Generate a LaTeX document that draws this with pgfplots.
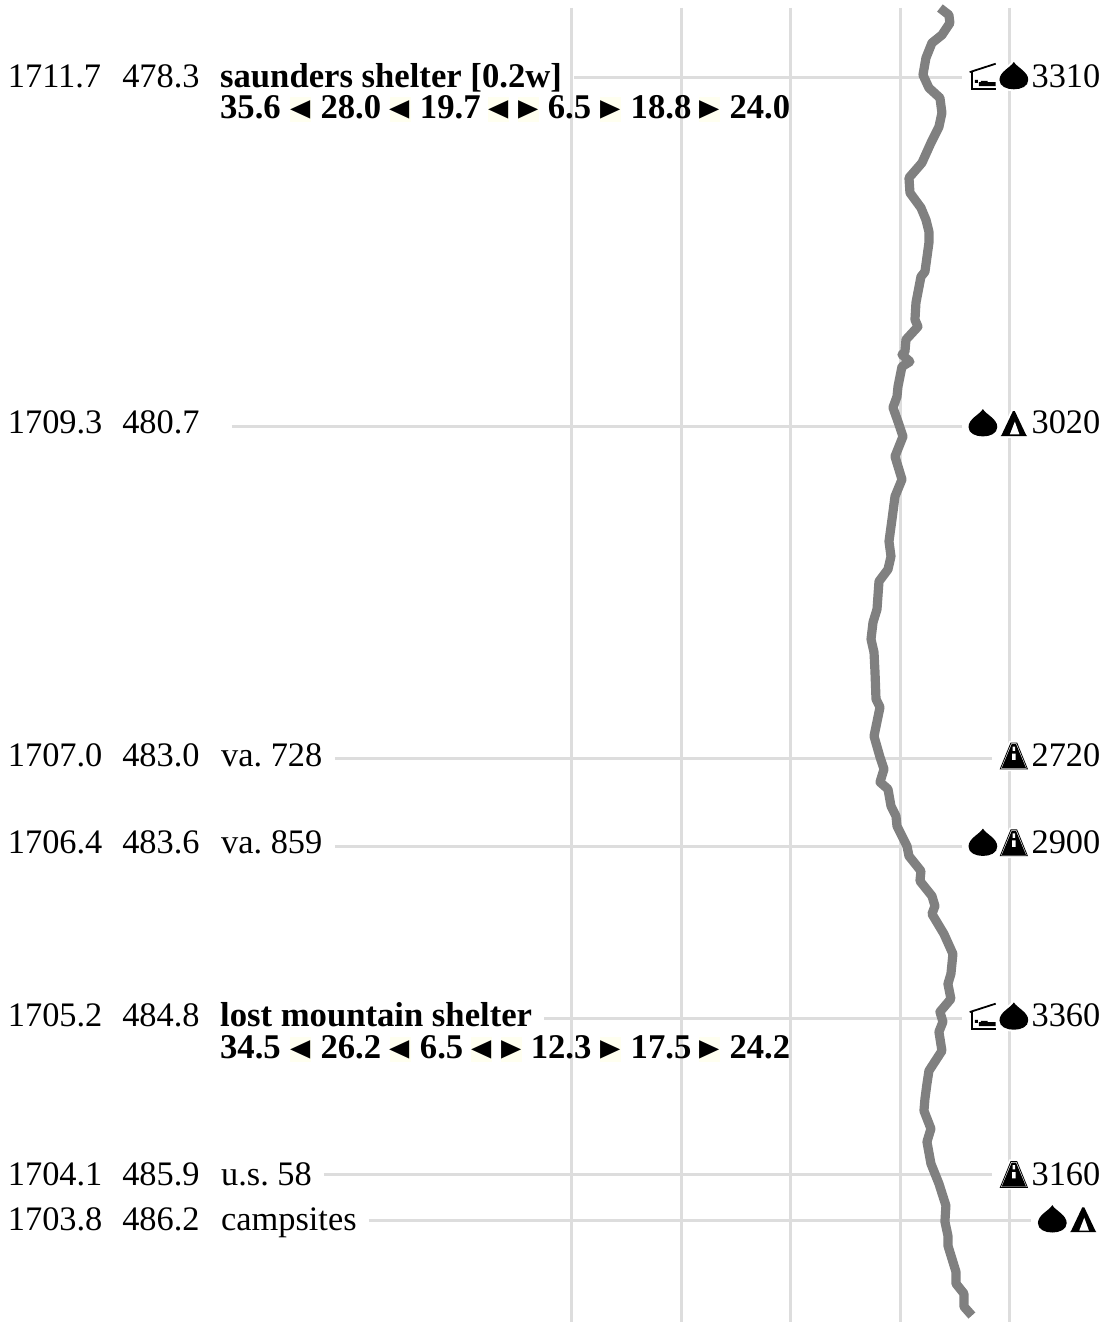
\documentclass[border=0pt]{standalone}
\usepackage{fontspec}
\usepackage{pgfplots}
\pgfplotsset{compat=1.18}
\setmainfont{Liberation Serif}
\newfontfamily\symfont{DejaVu Sans}
\frenchspacing
\definecolor{gridc}{HTML}{DDDDDD}
\definecolor{prof}{HTML}{808080}
\definecolor{ivoryc}{HTML}{FFFFF0}
\newcommand{\droppath}{%
  \pgfpathmoveto{\pgfpoint{0pt}{7pt}}%
  \pgfpathcurveto{\pgfpoint{1.6pt}{4.2pt}}{\pgfpoint{7.2pt}{2.2pt}}{\pgfpoint{7.2pt}{-2pt}}%
  \pgfpathcurveto{\pgfpoint{7.2pt}{-5.2pt}}{\pgfpoint{3.6pt}{-6.7pt}}{\pgfpoint{0pt}{-6.7pt}}%
  \pgfpathcurveto{\pgfpoint{-3.6pt}{-6.7pt}}{\pgfpoint{-7.2pt}{-5.2pt}}{\pgfpoint{-7.2pt}{-2pt}}%
  \pgfpathcurveto{\pgfpoint{-7.2pt}{2.2pt}}{\pgfpoint{-1.6pt}{4.2pt}}{\pgfpoint{0pt}{7pt}}%
  \pgfpathclose}
\pgfdeclareplotmark{wdrop}{%
  \pgfsetlinewidth{2pt}\pgfsetcolor{white}\droppath\pgfusepath{stroke}%
  \pgfsetfillcolor{black}\droppath\pgfusepath{fill}}
\newcommand{\tentpath}{%
  \pgfpathmoveto{\pgfpoint{-0.5pt}{6.4pt}}%
  \pgfpathlineto{\pgfpoint{0.5pt}{6.4pt}}%
  \pgfpathlineto{\pgfpoint{6.2pt}{-5.6pt}}%
  \pgfpathlineto{\pgfpoint{6.6pt}{-6pt}}%
  \pgfpathlineto{\pgfpoint{-6.6pt}{-6pt}}%
  \pgfpathlineto{\pgfpoint{-6.2pt}{-5.6pt}}%
  \pgfpathclose}
\pgfdeclareplotmark{wtent}{%
  \pgfsetlinewidth{2pt}\pgfsetcolor{white}\tentpath\pgfusepath{stroke}%
  \pgfsetfillcolor{black}\tentpath\pgfusepath{fill}%
  \pgfsetfillcolor{white}%
  \pgfpathmoveto{\pgfpoint{0.5pt}{1.2pt}}%
  \pgfpathlineto{\pgfpoint{2.8pt}{-5.2pt}}%
  \pgfpathlineto{\pgfpoint{-2.0pt}{-5.2pt}}%
  \pgfpathclose\pgfusepath{fill}}
\newcommand{\roadpath}{%
  \pgfpathmoveto{\pgfpoint{-1.5pt}{6.6pt}}%
  \pgfpathlineto{\pgfpoint{1.5pt}{6.6pt}}%
  \pgfpathlineto{\pgfpoint{6.8pt}{-6.4pt}}%
  \pgfpathlineto{\pgfpoint{-6.8pt}{-6.4pt}}%
  \pgfpathclose}
\pgfdeclareplotmark{wroad}{%
  \pgfsetlinewidth{2.2pt}\pgfsetcolor{white}\roadpath\pgfusepath{stroke}%
  \pgfsetlinewidth{0.4pt}\pgfsetstrokecolor{black}\roadpath\pgfusepath{stroke}%
  \pgfsetfillcolor{black}%
  \pgfpathmoveto{\pgfpoint{-1.1pt}{6pt}}%
  \pgfpathlineto{\pgfpoint{1.1pt}{6pt}}%
  \pgfpathlineto{\pgfpoint{6.1pt}{-6pt}}%
  \pgfpathlineto{\pgfpoint{-6.1pt}{-6pt}}%
  \pgfpathclose\pgfusepath{fill}%
  \pgfsetfillcolor{white}%
  \pgfpathrectangle{\pgfpoint{-0.6pt}{2.6pt}}{\pgfpoint{1.2pt}{2.2pt}}%
  \pgfpathrectangle{\pgfpoint{-0.9pt}{-1.9pt}}{\pgfpoint{1.8pt}{3.2pt}}%
  \pgfusepath{fill}}
\pgfdeclareplotmark{shelter}{%
  \pgfsetcolor{black}%
  \pgfsetlinewidth{0.9pt}%
  \pgfpathmoveto{\pgfpoint{-6.6pt}{2.4pt}}%
  \pgfpathlineto{\pgfpoint{6.4pt}{6.6pt}}%
  \pgfusepath{stroke}%
  \pgfpathmoveto{\pgfpoint{-5.4pt}{2.6pt}}%
  \pgfpathlineto{\pgfpoint{-5.4pt}{-6pt}}%
  \pgfpathlineto{\pgfpoint{6.4pt}{-6pt}}%
  \pgfusepath{stroke}%
  \pgfsetfillcolor{black}%
  \pgfpathrectangle{\pgfpoint{-2pt}{-4.6pt}}{\pgfpoint{8.4pt}{2pt}}%
  \pgfpathrectangle{\pgfpoint{-4pt}{-3pt}}{\pgfpoint{1.5pt}{1.5pt}}%
  \pgfpathrectangle{\pgfpoint{-1pt}{-2.8pt}}{\pgfpoint{3.4pt}{0.8pt}}%
  \pgfusepath{fill}}
\pgfplotstableread{
x y
941 8
950 15
951 23
943 35
933 43
927 58
924 75
930 88
941 98
943 113
940 127
932 143
923 163
910 178
911 193
922 208
927 220
930 232
930 243
926 272
922 277
917 303
916 320
919 327
907 340
906 352
903 355
911 362
903 367
899 387
898 397
894 408
900 425
904 437
896 457
903 480
896 497
893 520
890 542
892 557
889 570
880 582
878 610
874 623
872 640
875 653
876 673
877 700
881 708
875 737
881 758
885 770
881 783
889 790
892 807
897 817
898 827
908 847
910 857
922 872
921 882
933 897
936 907
933 915
945 935
954 955
952 975
949 985
952 1000
941 1013
944 1023
940 1033
943 1052
930 1072
928 1085
926 1100
925 1112
932 1130
928 1143
932 1165
940 1185
947 1207
946 1223
949 1237
949 1247
957 1273
957 1285
965 1295
965 1308
973 1317
}\profile
\newcommand{\lt}{\scalebox{0.85}[1.2]{◄}}
\newcommand{\rt}{\scalebox{0.85}[1.2]{►}}
\tikzset{
  t/.style={anchor=base west,inner sep=0pt,font=\fontsize{17.2}{17.2}\selectfont},
  tb/.style={anchor=base west,inner sep=0pt,font=\fontsize{17.35}{17.35}\selectfont\bfseries},
  tr/.style={anchor=base east,inner sep=0pt,font=\fontsize{17.2}{17.2}\selectfont},
  tri/.style={inner sep=0pt,fill=ivoryc,minimum width=10.5pt,minimum height=12.5pt,font=\symfont\fontsize{15.5}{15.5}\selectfont},
}
\begin{document}
\begin{tikzpicture}
\begin{axis}[
  scale only axis, width=552.5pt, height=661.5pt,
  xmin=0, xmax=1105, ymin=0, ymax=1323, y dir=reverse,
  hide axis, clip=false,
  every axis plot/.append style={line cap=butt},
]
\path (axis cs:0,0) rectangle (axis cs:1105,1323);
% vertical grid
\addplot[gridc,line width=1.5pt] coordinates {(572,8) (572,1323)};
\addplot[gridc,line width=1.5pt] coordinates {(682,8) (682,1323)};
\addplot[gridc,line width=1.5pt] coordinates {(791.5,8) (791.5,1323)};
\addplot[gridc,line width=1.5pt] coordinates {(901.5,8) (901.5,1323)};
\addplot[gridc,line width=1.5pt] coordinates {(1011,8) (1011,1323)};
% horizontal leaders
\addplot[gridc,line width=1.5pt] coordinates {(575,78) (963,78)};
\addplot[gridc,line width=1.5pt] coordinates {(232,427) (963,427)};
\addplot[gridc,line width=1.5pt] coordinates {(335,759) (993,759)};
\addplot[gridc,line width=1.5pt] coordinates {(335,847) (963,847)};
\addplot[gridc,line width=1.5pt] coordinates {(545,1020) (963,1020)};
\addplot[gridc,line width=1.5pt] coordinates {(324,1176) (993,1176)};
\addplot[gridc,line width=1.5pt] coordinates {(369,1222) (1032,1222)};
% profile
\addplot[prof,line width=4.6pt,line join=round] table[x=x,y=y] {\profile};
% icons
\addplot[only marks,mark=wdrop] coordinates {(1015,76) (984,423.5) (984,843.5) (1015,1017.5) (1053.5,1220.5)};
\addplot[only marks,mark=wtent] coordinates {(1015,424.5) (1084.5,1221.5)};
\addplot[only marks,mark=wroad] coordinates {(1015,757) (1015,844) (1015,1176)};
\addplot[only marks,mark=shelter] coordinates {(984,77) (984,1018)};
% text
\node[t] at (axis cs:7.5,87.5) {1711.7};
\node[t] at (axis cs:122,87.5) {478.3};
\node[tb] at (axis cs:220,87.5) {saunders shelter [0.2w]};
\node[tr] at (axis cs:1102,87.5) {3310};
\node[tb] at (axis cs:220,119) {35.6};
\node[tri] at (axis cs:300.5,110) {\lt};
\node[tb] at (axis cs:320.5,119) {28.0};
\node[tri] at (axis cs:400.5,110) {\lt};
\node[tb] at (axis cs:420,119) {19.7};
\node[tri] at (axis cs:499.5,110) {\lt};
\node[tri] at (axis cs:529.5,110) {\rt};
\node[tb] at (axis cs:548,119) {6.5};
\node[tri] at (axis cs:611,110) {\rt};
\node[tb] at (axis cs:631,119) {18.8};
\node[tri] at (axis cs:710.5,110) {\rt};
\node[tb] at (axis cs:730,119) {24.0};

\node[t] at (axis cs:7.5,434) {1709.3};
\node[t] at (axis cs:122,434) {480.7};
\node[tr] at (axis cs:1102,434) {3020};

\node[t] at (axis cs:7.5,767) {1707.0};
\node[t] at (axis cs:122,767) {483.0};
\node[t] at (axis cs:221,767) {va. 728};
\node[tr] at (axis cs:1102,767) {2720};

\node[t] at (axis cs:7.5,854) {1706.4};
\node[t] at (axis cs:122,854) {483.6};
\node[t] at (axis cs:221,854) {va. 859};
\node[tr] at (axis cs:1102,854) {2900};

\node[t] at (axis cs:7.5,1028) {1705.2};
\node[t] at (axis cs:122,1028) {484.8};
\node[tb] at (axis cs:220,1028) {lost mountain shelter};
\node[tr] at (axis cs:1102,1028) {3360};
\node[tb] at (axis cs:220,1060) {34.5};
\node[tri] at (axis cs:300.5,1051) {\lt};
\node[tb] at (axis cs:320.5,1060) {26.2};
\node[tri] at (axis cs:400.5,1051) {\lt};
\node[tb] at (axis cs:420,1060) {6.5};
\node[tri] at (axis cs:482,1051) {\lt};
\node[tri] at (axis cs:512,1051) {\rt};
\node[tb] at (axis cs:531,1060) {12.3};
\node[tri] at (axis cs:611,1051) {\rt};
\node[tb] at (axis cs:631,1060) {17.5};
\node[tri] at (axis cs:710.5,1051) {\rt};
\node[tb] at (axis cs:730,1060) {24.2};

\node[t] at (axis cs:7.5,1186.5) {1704.1};
\node[t] at (axis cs:122,1186.5) {485.9};
\node[t] at (axis cs:221,1186.5) {u.s. 58};
\node[tr] at (axis cs:1102,1186.5) {3160};

\node[t] at (axis cs:7.5,1231.5) {1703.8};
\node[t] at (axis cs:122,1231.5) {486.2};
\node[t] at (axis cs:221,1231.5) {campsites};
\end{axis}
\end{tikzpicture}
\end{document}
